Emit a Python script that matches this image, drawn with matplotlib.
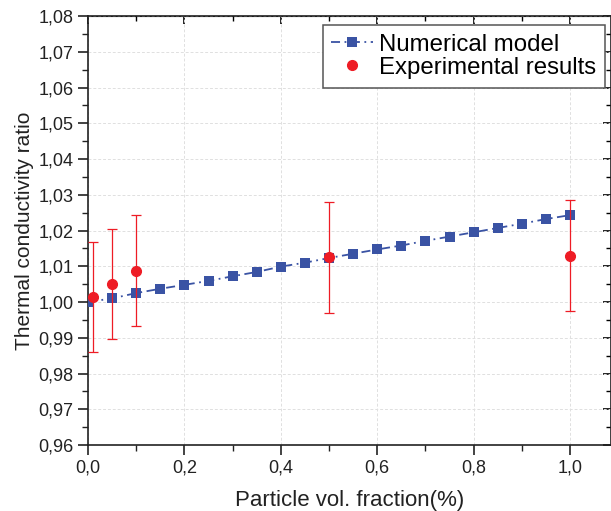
import matplotlib
matplotlib.use('Agg')
import matplotlib.pyplot as plt
from matplotlib.ticker import MultipleLocator, FuncFormatter

plt.rcParams['font.family'] = ['Liberation Sans', 'DejaVu Sans']

# numerical model
num_x = [0.0, 0.05, 0.1, 0.15, 0.2, 0.25, 0.3, 0.35, 0.4, 0.45, 0.5,
         0.55, 0.6, 0.65, 0.7, 0.75, 0.8, 0.85, 0.9, 0.95, 1.0]
num_y = [1.0000, 1.0010, 1.0025, 1.0037, 1.0048, 1.0059, 1.0072, 1.0084, 1.0099, 1.0110, 1.0123,
         1.0135, 1.0147, 1.0158, 1.0171, 1.0183, 1.0195, 1.0207, 1.0219, 1.0232, 1.0243]

# experimental results
exp_x = [0.01, 0.05, 0.1, 0.5, 1.0]
exp_y = [1.0013, 1.0050, 1.0088, 1.0125, 1.0130]
exp_err = [0.0154, 0.0154, 0.0154, 0.0155, 0.0154]

blue = '#3a53a4'
red = '#ee1c25'

fig = plt.figure(figsize=(6.11, 5.11), dpi=100)
ax = fig.add_axes([88 / 611, 1 - 445 / 511, (611 - 88) / 611, (445 - 16) / 511])

ax.plot(num_x, num_y, color=blue, linestyle=(0, (5, 2.5, 1, 2.5)), linewidth=1.3,
        marker='s', markersize=7.2, markeredgewidth=0, label='Numerical model', zorder=3)
ax.errorbar(exp_x, exp_y, yerr=exp_err, fmt='none', ecolor=red,
            elinewidth=0.9, capsize=3.8, capthick=0.9, zorder=4)
ax.plot(exp_x, exp_y, 'o', color=red, markersize=7, linestyle='none',
        label='Experimental results', zorder=5)

ax.set_xlim(0, 1.085)
ax.set_ylim(0.96, 1.08)
ax.xaxis.set_major_locator(MultipleLocator(0.2))
ax.xaxis.set_minor_locator(MultipleLocator(0.1))
ax.yaxis.set_major_locator(MultipleLocator(0.01))
ax.yaxis.set_minor_locator(MultipleLocator(0.005))
ax.xaxis.set_major_formatter(FuncFormatter(lambda v, p: f'{v:.1f}'.replace('.', ',')))
ax.yaxis.set_major_formatter(FuncFormatter(lambda v, p: f'{v:.2f}'.replace('.', ',')))

ax.grid(True, which='major', color='#e0e0e0', linestyle=(0, (3, 2)), linewidth=0.7)
ax.set_axisbelow(True)

for s in ax.spines.values():
    s.set_linewidth(1.2)
    s.set_color('#222222')
ax.tick_params(which='major', direction='out', length=7, width=1.2, labelsize=13, colors='#222222')
ax.tick_params(which='minor', direction='out', length=4, width=1.0, colors='#222222')

top = ax.secondary_xaxis('top')
top.xaxis.set_major_locator(MultipleLocator(0.2))
top.xaxis.set_minor_locator(MultipleLocator(0.1))
top.tick_params(which='major', direction='in', length=6, width=1.2, labeltop=False)
top.tick_params(which='minor', direction='in', length=3.5, width=1.0)
right = ax.secondary_yaxis('right')
right.yaxis.set_major_locator(MultipleLocator(0.01))
right.yaxis.set_minor_locator(MultipleLocator(0.005))
right.tick_params(which='major', direction='in', length=6, width=1.2, labelright=False)
right.tick_params(which='minor', direction='in', length=3.5, width=1.0)

ax.set_xlabel('Particle vol. fraction(%)', fontsize=16, color='#222222', labelpad=10)
ax.set_ylabel('Thermal conductivity ratio', fontsize=15, color='#222222', labelpad=3)

leg = ax.legend(loc='upper right', fontsize=17.3, fancybox=False, framealpha=1,
                edgecolor='#555555', borderpad=0.36, handlelength=1.75,
                handletextpad=0.25, labelspacing=0.05, borderaxespad=0,
                bbox_to_anchor=((605 - 88) / 523, 1 - (25 - 16) / 429))
leg.get_frame().set_linewidth(1.1)

fig.savefig('out.png', dpi=100)
